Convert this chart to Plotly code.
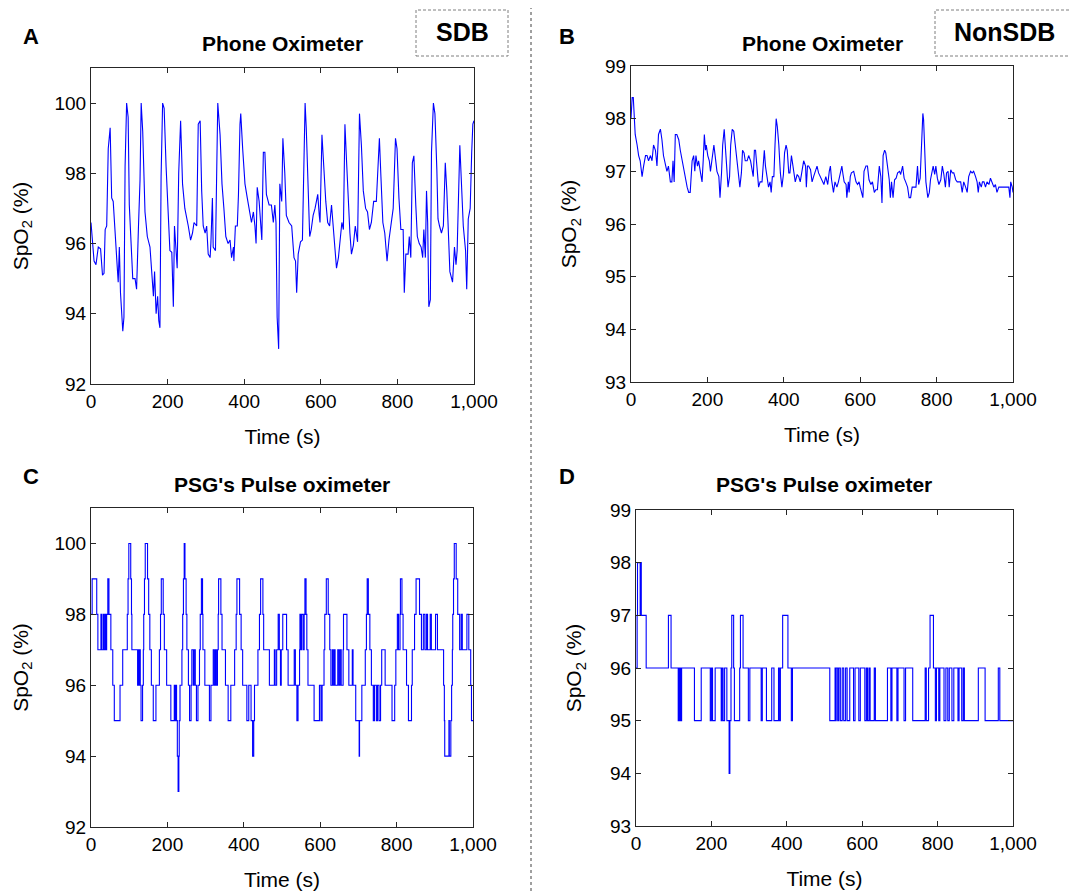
import plotly.graph_objects as go

# ---------------- data ----------------
a_time = [0, 8, 13, 19, 25, 30, 34, 37, 41, 45, 50, 54, 58, 63, 67, 71, 74, 77, 83, 86, 89, 93, 97, 100,
          106, 109, 115, 119, 124, 128, 131, 135, 141, 147, 154, 158, 163, 166, 170, 174, 177, 180, 183,
          187, 191, 196, 202, 206, 211, 215, 218, 222, 225, 229, 234, 239, 245, 254, 260, 265, 269, 276,
          280, 285, 289, 293, 298, 302, 306, 311, 313, 317, 319, 325, 328, 331, 337, 342, 347, 352, 358,
          363, 367, 372, 373, 377, 382, 385, 389, 391, 396, 402, 408, 415, 419, 424, 428, 431, 434, 439,
          446, 450, 454, 458, 465, 471, 476, 480, 483, 486, 490, 493, 498, 501, 506, 510, 517, 524, 530,
          534, 537, 541, 547, 552, 555, 559, 562, 567, 571, 575, 580, 585, 589, 592, 596, 598, 603, 608,
          613, 618, 623, 628, 632, 637, 641, 646, 651, 655, 659, 663, 667, 673, 676, 680, 685, 690, 696,
          701, 706, 711, 717, 722, 727, 732, 738, 745, 749, 753, 757, 762, 767, 771, 773, 778, 784, 789,
          795, 799, 804, 809, 815, 818, 822, 828, 831, 835, 839, 843, 848, 852, 857, 862, 866, 869, 873,
          876, 879, 882, 886, 889, 894, 898, 903, 906, 910, 915, 920, 925, 929, 933, 937, 944, 949, 953,
          956, 963, 967, 972, 978, 981, 985, 990, 994, 997, 1000]
a_spo2 = [96.6, 95.5, 95.4, 95.9, 95.85, 95.1, 95.15, 96.4, 96.5, 98.7, 99.3, 97.3, 97.2, 96.1, 95.6, 94.9,
          95.9, 94.6, 93.5, 93.9, 98.2, 100, 99.6, 97.1, 95.4, 95.0, 95.0, 94.7, 96.5, 97.8, 100, 99.2,
          96.9, 96.2, 95.9, 95.2, 94.5, 95.2, 94.0, 94.5, 93.8, 93.6, 97.9, 100, 99.85, 98.2, 96.7, 95.8,
          95.75, 94.2, 96.5, 95.7, 95.3, 98.0, 99.5, 97.7, 97.0, 96.5, 96.1, 96.3, 96.6, 96.5, 99.4, 99.5,
          97.5, 96.5, 96.3, 96.5, 95.7, 95.6, 96.0, 97.3, 95.9, 95.8, 98.2, 100, 99.1, 97.7, 97.0, 96.2,
          96.0, 96.1, 95.6, 95.9, 95.5, 96.5, 96.5, 97.4, 99.4, 99.7, 98.7, 97.7, 97.3, 96.9, 96.6, 96.9,
          96.5, 96.0, 97.6, 97.2, 96.1, 98.6, 98.6, 97.4, 97.1, 97.1, 96.6, 97.1, 96.6, 93.9, 93.0, 97.7,
          97.2, 99.0, 98.0, 96.8, 96.6, 96.5, 95.6, 95.5, 94.6, 95.7, 96.05, 96.1, 98.2, 100, 99.3, 97.3,
          96.2, 96.4, 96.8, 97.0, 97.2, 97.4, 96.8, 96.6, 99.1, 98.0, 97.2, 96.6, 96.5, 97.1, 96.5, 95.95,
          95.3, 95.6, 96.2, 96.6, 96.4, 99.4, 98.4, 96.9, 96.3, 95.7, 95.95, 96.5, 96.05, 99.7, 98.8, 97.5,
          97.0, 96.9, 96.4, 96.6, 97.2, 97.2, 98.0, 99.0, 97.9, 96.6, 96.3, 95.85, 95.5, 96.1, 96.6, 97.0,
          99.0, 98.7, 97.3, 96.4, 96.4, 94.6, 95.7, 95.7, 96.2, 95.6, 98.3, 98.5, 97.1, 96.2, 96.0, 95.9,
          95.6, 96.4, 95.6, 97.5, 96.6, 94.2, 94.4, 98.6, 100, 99.7, 98.1, 96.7, 96.5, 96.3, 96.5, 98.3,
          97.5, 96.05, 95.2, 94.9, 95.9, 95.4, 95.8, 98.8, 97.7, 96.5, 95.8, 94.7, 96.7, 97.0, 98.6, 99.4,
          99.5]

b_time = [0, 3, 6, 8, 11, 16, 20, 24, 29, 33, 38, 42, 46, 51, 55, 59, 64, 68, 72, 77, 81, 85, 90, 94, 98,
          103, 107, 110, 113, 116, 120, 125, 129, 134, 138, 142, 147, 151, 155, 160, 164, 167, 170, 174,
          177, 182, 186, 189, 192, 195, 197, 201, 205, 208, 212, 217, 221, 225, 230, 233, 237, 240, 244,
          247, 251, 254, 258, 261, 265, 269, 273, 278, 282, 285, 289, 292, 296, 299, 304, 308, 313, 317,
          320, 323, 326, 330, 334, 338, 343, 347, 349, 352, 356, 360, 364, 367, 370, 374, 377, 380, 383,
          387, 391, 395, 399, 402, 406, 409, 413, 416, 420, 423, 427, 430, 435, 439, 443, 448, 452, 457,
          459, 462, 465, 470, 474, 478, 483, 487, 491, 496, 500, 505, 510, 515, 519, 522, 525, 530, 534,
          539, 543, 548, 552, 555, 558, 563, 565, 569, 571, 574, 577, 583, 586, 589, 593, 597, 600, 603,
          607, 610, 615, 619, 623, 628, 632, 637, 641, 645, 650, 654, 657, 660, 664, 667, 671, 676, 679,
          682, 686, 690, 694, 698, 703, 706, 711, 715, 719, 724, 728, 732, 736, 741, 746, 750, 753, 757,
          760, 764, 766, 769, 772, 777, 781, 784, 788, 791, 795, 798, 802, 806, 811, 815, 819, 823, 826,
          830, 833, 837, 841, 845, 850, 854, 858, 863, 867, 871, 876, 880, 884, 889, 893, 897, 902, 906,
          909, 912, 917, 920, 924, 928, 932, 937, 941, 945, 950, 954, 958, 963, 976, 985, 989, 992, 994,
          998, 1000]
b_spo2 = [98.0, 98.4, 98.4, 98.0, 97.7, 97.5, 97.3, 97.2, 96.9, 97.1, 97.3, 97.3, 97.2, 97.3, 97.2, 97.5,
          97.4, 97.1, 97.7, 97.8, 97.6, 97.3, 97.1, 97.0, 97.1, 96.8, 96.8, 97.2, 96.8, 97.7, 97.7, 97.6,
          97.4, 97.2, 97.0, 96.9, 96.7, 96.6, 96.6, 97.2, 97.3, 97.0, 97.3, 97.1, 97.2, 96.97, 96.8, 97.2,
          97.7, 97.4, 97.5, 97.3, 97.2, 97.0, 97.25, 97.5, 97.25, 97.0, 96.9, 96.5, 96.97, 97.5, 97.8,
          97.5, 96.9, 96.7, 96.9, 97.5, 97.8, 97.76, 97.5, 97.2, 96.9, 96.7, 96.97, 97.4, 97.35, 97.2,
          97.2, 97.3, 97.2, 97.0, 96.9, 97.4, 97.4, 97.06, 96.7, 96.8, 96.8, 97.2, 97.4, 97.1, 96.9, 96.7,
          96.8, 96.6, 96.9, 96.9, 97.5, 98.0, 97.85, 97.5, 96.97, 96.7, 96.94, 97.35, 97.5, 97.4, 96.97,
          96.97, 97.3, 97.16, 96.9, 96.8, 96.94, 96.9, 96.8, 97.0, 97.2, 97.1, 96.7, 97.1, 97.1, 97.03,
          96.8, 96.9, 97.03, 97.1, 96.97, 96.9, 96.84, 96.75, 96.9, 96.75, 97.0, 97.1, 96.84, 96.6, 96.8,
          96.7, 96.8, 96.97, 97.1, 96.94, 96.8, 96.75, 96.5, 96.8, 96.6, 96.9, 96.97, 97.0, 96.9, 96.8,
          96.75, 96.8, 96.7, 96.6, 96.5, 97.0, 97.1, 97.1, 96.84, 96.75, 96.8, 96.6, 96.65, 96.65, 97.1,
          96.9, 96.4, 97.3, 97.4, 97.35, 97.1, 96.84, 96.5, 96.8, 96.5, 96.84, 96.87, 96.97, 97.0, 96.94,
          97.1, 96.87, 96.8, 96.7, 96.5, 96.5, 96.7, 96.7, 96.7, 97.1, 96.75, 96.87, 97.44, 98.1, 97.98,
          97.16, 96.8, 96.5, 96.6, 96.84, 97.03, 97.1, 96.94, 97.1, 96.87, 96.75, 96.84, 97.1, 96.94, 96.7,
          96.97, 97.0, 96.7, 97.03, 96.97, 96.97, 96.84, 96.8, 96.8, 96.8, 96.6, 96.8, 96.7, 96.6, 96.9,
          97.0, 96.97, 97.0, 96.9, 96.8, 96.6, 96.8, 96.7, 96.8, 96.8, 96.7, 96.8, 96.75, 96.87, 96.8,
          96.7, 96.75, 96.6, 96.7, 96.7, 96.7, 96.7, 96.5, 96.8, 96.7, 96.6]

c_time = [0, 3, 15, 18, 26, 28, 32, 34, 37, 39, 41, 44, 47, 52, 57, 61, 76, 83, 95, 97, 99, 104, 106, 107,
          122, 124, 126, 128, 129, 131, 135, 137, 138, 140, 142, 148, 151, 154, 158, 163, 170, 179, 182,
          184, 189, 192, 198, 209, 218, 220, 222, 224, 226, 228, 230, 231, 233, 238, 240, 242, 244, 246,
          249, 251, 255, 258, 262, 264, 268, 270, 273, 276, 280, 284, 286, 289, 292, 293, 298, 310, 314,
          320, 323, 326, 328, 331, 333, 334, 340, 343, 352, 359, 366, 376, 380, 382, 389, 393, 397, 408,
          413, 419, 423, 426, 428, 437, 441, 444, 450, 452, 467, 480, 482, 486, 490, 493, 496, 498, 502,
          512, 516, 532, 535, 539, 542, 546, 547, 549, 551, 555, 558, 560, 563, 565, 568, 584, 598, 602,
          605, 610, 612, 616, 621, 625, 628, 632, 634, 637, 639, 646, 649, 652, 655, 660, 661, 670, 675,
          684, 686, 693, 702, 703, 709, 718, 721, 723, 726, 730, 734, 739, 742, 747, 750, 754, 758, 761,
          770, 788, 795, 798, 802, 805, 809, 810, 814, 817, 826, 831, 839, 841, 847, 851, 860, 865, 870,
          874, 878, 881, 888, 891, 902, 907, 923, 925, 926, 937, 938, 942, 944, 946, 947, 949, 951, 956,
          960, 965, 969, 972, 984, 989, 994, 996, 1000]
c_spo2 = [98, 99, 98, 97, 98, 97, 98, 97, 98, 97, 98, 99, 98, 97, 96, 95, 96, 97, 98, 99, 100, 99, 98, 97,
          96, 97, 96, 97, 96, 95, 96, 97, 98, 99, 100, 99, 98, 97, 96, 95, 96, 97, 98, 99, 98, 97, 96, 95,
          96, 95, 96, 95, 94, 93, 94, 95, 96, 97, 98, 99, 100, 99, 98, 97, 96, 95, 96, 97, 96, 97, 96, 95,
          96, 97, 98, 99, 98, 97, 96, 95, 96, 97, 96, 97, 96, 97, 98, 99, 98, 97, 96, 95, 96, 97, 98, 99,
          98, 97, 96, 95, 96, 95, 94, 95, 96, 97, 98, 99, 98, 97, 96, 97, 96, 97, 98, 97, 96, 97, 98, 97,
          96, 97, 96, 95, 96, 97, 98, 97, 98, 97, 98, 99, 98, 97, 96, 95, 96, 95, 96, 97, 98, 99, 98, 97,
          96, 97, 96, 97, 96, 97, 96, 97, 96, 97, 98, 97, 96, 97, 96, 95, 94, 95, 96, 97, 98, 99, 98, 97,
          96, 95, 96, 95, 96, 95, 96, 97, 96, 95, 96, 97, 98, 97, 98, 99, 98, 97, 96, 95, 96, 97, 98, 99,
          98, 97, 98, 97, 98, 97, 98, 97, 98, 97, 96, 95, 94, 95, 94, 95, 96, 97, 98, 99, 100, 99, 98, 97,
          98, 97, 98, 97, 96, 95, 95]

d_time = [0, 3, 4, 11, 13, 14, 27, 86, 93, 112, 114, 116, 118, 119, 121, 155, 173, 197, 200, 203, 210, 226,
          228, 231, 235, 241, 247, 249, 252, 254, 259, 261, 275, 277, 284, 298, 302, 332, 335, 346, 360,
          366, 378, 380, 383, 389, 403, 412, 415, 514, 528, 530, 531, 535, 538, 542, 547, 551, 556, 560,
          567, 577, 581, 591, 595, 607, 611, 614, 618, 621, 632, 635, 667, 676, 679, 692, 695, 711, 715,
          734, 767, 770, 776, 780, 789, 794, 797, 803, 806, 817, 822, 827, 831, 838, 843, 854, 857, 864,
          868, 871, 908, 926, 961, 965, 1000]
d_spo2 = [96, 97, 98, 97, 98, 97, 96, 97, 96, 95, 96, 95, 96, 95, 96, 95, 96, 95, 96, 95, 96, 95, 96, 95,
          96, 95, 94, 95, 96, 97, 96, 95, 96, 97, 96, 95, 96, 95, 96, 95, 96, 95, 96, 95, 96, 97, 96, 95,
          96, 95, 96, 95, 96, 95, 96, 95, 96, 95, 96, 95, 96, 95, 96, 95, 96, 95, 96, 95, 96, 95, 96, 95,
          96, 95, 96, 95, 96, 95, 96, 95, 96, 95, 96, 97, 96, 95, 96, 95, 96, 95, 96, 95, 96, 95, 96, 95,
          96, 95, 96, 95, 96, 95, 96, 95, 95]

x_ticks = [0, 200, 400, 600, 800, 1000]
x_ticklabels = ["0", "200", "400", "600", "800", "1,000"]
y_ticks_sdb = [92, 94, 96, 98, 100]
y_ticks_non = [93, 94, 95, 96, 97, 98, 99]

panel_letters = ["A", "B", "C", "D"]
panel_titles = ["Phone Oximeter", "Phone Oximeter", "PSG's Pulse oximeter", "PSG's Pulse oximeter"]
group_labels = ["SDB", "NonSDB"]

# ---------------- figure ----------------
W, H = 1077, 893
OFF = 8  # page body margin offset
FONT = "Liberation Sans, Arial, Helvetica, sans-serif"
BLUE = "#0000FF"
AX = "#262626"

def px_x(x):
    return (x - OFF) / W

def px_y(y):
    return 1 - (y - OFF) / H

fig = go.Figure()
series = [(a_time, a_spo2, "linear"), (b_time, b_spo2, "linear"),
          (c_time, c_spo2, "hv"), (d_time, d_spo2, "hv")]
for i, (t, v, shape) in enumerate(series):
    suffix = "" if i == 0 else str(i + 1)
    fig.add_trace(go.Scatter(x=t, y=v, mode="lines", line=dict(color=BLUE, width=1.1, shape=shape),
                             xaxis="x" + suffix, yaxis="y" + suffix, showlegend=False,
                             hoverinfo="x+y"))

# plot areas in pixels (left, right, top, bottom)
boxes = [(91, 474, 68, 384), (631, 1013, 66, 382), (91, 473, 508, 827), (636, 1013, 510, 826)]
yranges = [[92, 101], [93, 99], [92, 101], [93, 99]]
yticks = [y_ticks_sdb, y_ticks_non, y_ticks_sdb, y_ticks_non]
ystandoff = [20, 22, 20, 22]

layout = dict(width=W, height=H, margin=dict(l=0, r=0, t=0, b=0, autoexpand=False),
              paper_bgcolor="white", plot_bgcolor="white",
              font=dict(family=FONT, color="black", size=19))

for i, (l, r, t, b) in enumerate(boxes):
    suffix = "" if i == 0 else str(i + 1)
    common = dict(showline=True, linecolor=AX, linewidth=1, mirror="ticks", ticks="inside",
                  ticklen=5, tickcolor=AX, showgrid=False, zeroline=False, automargin=False,
                  tickfont=dict(family=FONT, size=19, color="black"))
    layout["xaxis" + suffix] = dict(domain=[px_x(l), px_x(r)], anchor="y" + suffix,
                                    range=[0, 1000], tickvals=x_ticks, ticktext=x_ticklabels,
                                    title=dict(text="Time (s)", font=dict(family=FONT, size=21),
                                               standoff=18),
                                    **common)
    layout["yaxis" + suffix] = dict(domain=[px_y(b), px_y(t)], anchor="x" + suffix,
                                    range=yranges[i], tickvals=yticks[i],
                                    title=dict(text="SpO<sub>2</sub> (%)", font=dict(family=FONT, size=21),
                                               standoff=ystandoff[i]),
                                    **common)

fig.update_layout(**layout)

annotations = []
letter_pos = [(31, 36), (567, 36), (31, 476), (567, 476)]
title_pos = [(282, 44), (822, 44), (282, 484), (824, 484)]
for i in range(4):
    annotations.append(dict(text="<b>%s</b>" % panel_letters[i], x=px_x(letter_pos[i][0]),
                            y=px_y(letter_pos[i][1]), xref="paper", yref="paper", showarrow=False,
                            xanchor="center", yanchor="middle", font=dict(family=FONT, size=22)))
    annotations.append(dict(text="<b>%s</b>" % panel_titles[i], x=px_x(title_pos[i][0]),
                            y=px_y(title_pos[i][1]), xref="paper", yref="paper", showarrow=False,
                            xanchor="center", yanchor="middle", font=dict(family=FONT, size=21)))

group_boxes = [(416, 508, 10, 56), (935, 1074, 10, 56)]
shapes = []
for (l, r, t, b), lab in zip(group_boxes, group_labels):
    shapes.append(dict(type="rect", xref="paper", yref="paper", x0=px_x(l), x1=px_x(r),
                       y0=px_y(b), y1=px_y(t), line=dict(color="#7f7f7f", width=1, dash="3px,2px")))
    annotations.append(dict(text="<b>%s</b>" % lab, x=px_x((l + r) / 2), y=px_y(32),
                            xref="paper", yref="paper", showarrow=False, xanchor="center",
                            yanchor="middle", font=dict(family=FONT, size=25)))

shapes.append(dict(type="line", xref="paper", yref="paper", x0=px_x(531), x1=px_x(531),
                   y0=px_y(0), y1=px_y(893), line=dict(color="#404040", width=1, dash="3px,3px")))

fig.update_layout(annotations=annotations, shapes=shapes)
fig.write_html("out.html")
